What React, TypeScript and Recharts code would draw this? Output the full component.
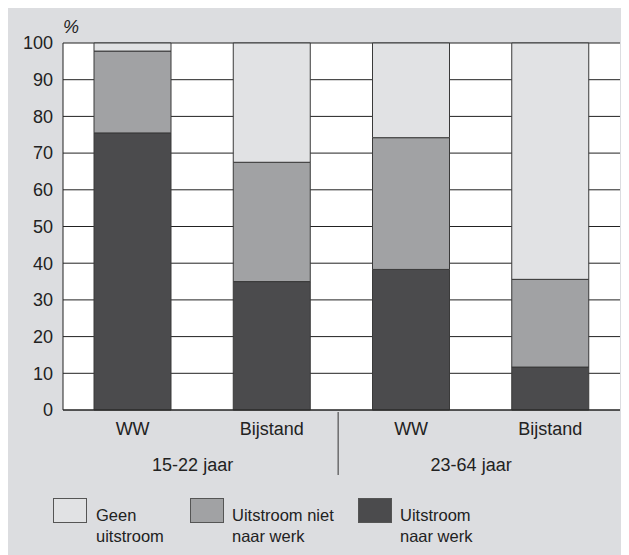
import React from "react";
import { Bar, BarChart, CartesianGrid, XAxis, YAxis } from "recharts";

const categories = ["WW", "Bijstand", "WW", "Bijstand"];
const groups = ["15-22 jaar", "15-22 jaar", "23-64 jaar", "23-64 jaar"];
const naarWerk = [75.5, 35, 38.3, 11.7];
const nietNaarWerk = [22.3, 32.5, 35.9, 23.9];
const geenUitstroom = [2.2, 32.5, 25.8, 64.4];
const yTicks = [0, 10, 20, 30, 40, 50, 60, 70, 80, 90, 100];

const series = [
  { key: "geen", label: ["Geen", "uitstroom"], color: "#e1e2e4" },
  { key: "niet", label: ["Uitstroom niet", "naar werk"], color: "#a1a2a4" },
  { key: "werk", label: ["Uitstroom", "naar werk"], color: "#4b4b4d" },
];

const data = categories.map((name, i) => ({
  name,
  group: groups[i],
  werk: naarWerk[i],
  niet: nietNaarWerk[i],
  geen: geenUitstroom[i],
}));

const FONT = '"Liberation Sans", Arial, sans-serif';
const BG = "#dcdde0";

function GroupTick(props: any) {
  const { x, y, index, payload } = props;
  if (index % 2 !== 0) return null;
  return (
    <g>
      <text
        x={x + 60}
        y={y + 29}
        textAnchor="middle"
        fontSize={18}
        fontFamily={FONT}
        fill="#222"
      >
        {payload.value}
      </text>
      {index > 0 && (
        <line x1={x - 73} x2={x - 73} y1={y - 30} y2={y + 33} stroke="#333" />
      )}
    </g>
  );
}

export default function App() {
  return (
    <div
      style={{
        position: "relative",
        width: 621,
        height: 549,
        marginTop: -2,
        background: BG,
        fontFamily: FONT,
      }}
    >
      <div
        style={{
          position: "absolute",
          left: 55,
          top: 11,
          fontSize: 18,
          fontStyle: "italic",
          color: "#222",
        }}
      >
        %
      </div>
      <BarChart
        width={621}
        height={549}
        data={data}
        margin={{ top: 37, right: 9, left: 0, bottom: 75 }}
        barSize={77}
      >
        <CartesianGrid
          vertical={false}
          stroke="#222"
          fill="#fff"
          fillOpacity={1}
        />
        <XAxis
          dataKey="name"
          axisLine={{ stroke: "#222" }}
          tickLine={false}
          tickSize={0}
          tickMargin={12}
          height={30}
          tick={{ fill: "#222", fontSize: 18, fontFamily: FONT }}
        />
        <XAxis
          xAxisId="group"
          dataKey="group"
          axisLine={false}
          tickLine={false}
          tickSize={0}
          height={40}
          interval={0}
          tick={<GroupTick />}
        />
        <YAxis
          width={55}
          domain={[0, 100]}
          ticks={yTicks}
          interval={0}
          axisLine={{ stroke: "#222" }}
          tickLine={false}
          tickSize={0}
          tickMargin={10}
          tick={{ fill: "#222", fontSize: 18, fontFamily: FONT }}
        />
        <YAxis
          yAxisId="frame"
          orientation="right"
          width={0}
          tick={false}
          tickLine={false}
          axisLine={{ stroke: "#222" }}
        />
        <Bar dataKey="werk" stackId="a" fill="#4b4b4d" stroke="#3a3a3a" isAnimationActive={false} />
        <Bar dataKey="niet" stackId="a" fill="#a1a2a4" stroke="#3a3a3a" isAnimationActive={false} />
        <Bar dataKey="geen" stackId="a" fill="#e1e2e4" stroke="#3a3a3a" isAnimationActive={false} />
      </BarChart>
      {series.map((s, i) => (
        <div key={s.key}>
          <div
            style={{
              position: "absolute",
              left: [45, 182, 350][i],
              top: 492,
              width: 32,
              height: 23,
              background: s.color,
              border: "1px solid #555",
            }}
          />
          <div
            style={{
              position: "absolute",
              left: [88, 224, 392][i],
              top: 499,
              fontSize: 16.5,
              lineHeight: "21px",
              color: "#222",
            }}
          >
            {s.label[0]}
            <br />
            {s.label[1]}
          </div>
        </div>
      ))}
    </div>
  );
}
